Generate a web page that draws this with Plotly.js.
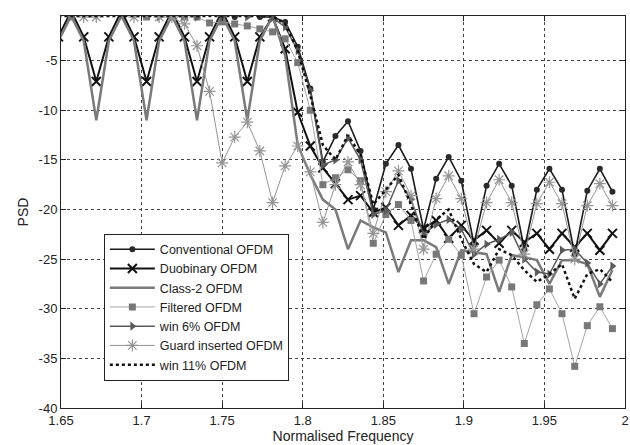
<!DOCTYPE html>
<html>
<head>
<meta charset="utf-8">
<script src="https://cdn.plot.ly/plotly-3.0.1.min.js"></script>
<style>html,body{margin:0;padding:0;background:#fff;}#chart{width:630px;height:445px;}</style>
</head>
<body>
<div id="chart"></div>
<script>
// Normalised frequency samples (n/128, n = 211..255)
const freq = [1.6484,1.6563,1.6641,1.6719,1.6797,1.6875,1.6953,1.7031,1.7109,1.7188,
  1.7266,1.7344,1.7422,1.75,1.7578,1.7656,1.7734,1.7813,1.7891,1.7969,
  1.8047,1.8125,1.8203,1.8281,1.8359,1.8438,1.8516,1.8594,1.8672,1.875,
  1.8828,1.8906,1.8984,1.9063,1.9141,1.9219,1.9297,1.9375,1.9453,1.9531,
  1.9609,1.9688,1.9766,1.9844,1.9922];

const conventional = [0,0,0,0,0,0,0,0,0,0,
  0,0,0,0,-0.6,0,-0.6,-0.6,-1.1,-3.6,
  -7.8,-15.2,-12.6,-11.1,-14.1,-20.0,-15.4,-13.5,-15.9,-22.0,
  -16.9,-14.7,-17.1,-23.5,-17.6,-15.4,-17.6,-24.0,-18.0,-15.9,
  -18.0,-24.5,-18.1,-15.9,-18.2];

const duobinary = [-2.6,0,-2.6,-7.1,-2.6,0,-2.6,-7.1,-2.6,0,
  -2.6,-7.1,-2.6,0,-2.6,-7.1,-2.6,-0.6,-3.8,-10.2,
  -13.6,-15.8,-17.4,-19.0,-18.6,-20.3,-19.8,-21.6,-20.6,-21.9,
  -21.1,-22.9,-21.6,-23.1,-22.1,-23.4,-22.1,-23.3,-22.4,-24.0,
  -22.4,-23.8,-22.4,-24.1,-22.4];

const class2 = [-3.0,-0.5,-3.0,-11.0,-3.0,-0.5,-3.0,-11.0,-3.0,-0.5,
  -3.0,-11.0,-3.0,-0.5,-3.0,-11.0,-3.0,-0.5,-4.5,-13.5,
  -16.5,-19.0,-20.0,-24.0,-21.1,-21.8,-22.3,-26.3,-23.1,-23.1,
  -23.8,-27.5,-24.1,-24.3,-24.5,-28.3,-24.6,-24.8,-25.1,-27.5,
  -25.1,-25.1,-25.5,-28.8,-26.1];

const filtered = [0,-0.6,0,0,0,0,0,-0.6,0,-0.6,
  -0.6,-0.6,-1.2,-1.1,-1.3,-1.5,-1.8,-2.1,-2.8,-5.2,
  -10.0,-17.5,-16.8,-16.0,-17.1,-23.4,-20.5,-19.5,-21.1,-27.2,
  -24.5,-23.0,-24.6,-30.5,-26.8,-25.1,-27.8,-33.5,-29.6,-28.0,
  -30.5,-35.8,-31.7,-29.8,-32.0];

const win6 = [0,0,0,0,0,0,0,0,-0.6,0,
  0,-0.6,0,-0.6,0,-0.6,0,-0.7,-1.6,-4.0,
  -8.0,-15.5,-15.0,-12.8,-15.0,-20.5,-20.1,-17.1,-19.0,-22.5,
  -21.5,-21.0,-22.0,-24.5,-23.5,-23.0,-22.3,-25.0,-26.3,-26.5,
  -24.1,-24.0,-25.4,-27.5,-25.7];

const guard = [0,0,-0.6,-0.6,0,0,-0.6,0,-0.6,-0.6,
  -1.3,-3.5,-8.1,-15.3,-12.7,-11.2,-14.1,-19.3,-15.6,-13.6,
  -16.2,-21.3,-17.5,-15.2,-17.5,-22.4,-18.2,-16.1,-18.6,-24.0,
  -18.9,-16.6,-18.9,-24.0,-19.3,-17.0,-19.3,-24.5,-19.4,-17.25,
  -19.4,-25.0,-19.6,-17.4,-19.6];

const win11 = [-0.5,-0.5,-0.5,-0.5,-0.5,-0.5,-0.5,-0.5,-0.5,-0.5,
  -0.5,-0.5,-0.5,-0.5,-0.5,-0.5,-0.5,-0.5,-1.3,-4.0,
  -8.5,-13.5,-15.0,-12.5,-14.5,-19.5,-18.0,-16.5,-19.5,-23.0,
  -21.0,-20.0,-23.0,-25.5,-26.3,-24.0,-24.6,-26.1,-27.3,-26.5,
  -25.5,-29.0,-26.5,-26.0,-27.3];

const seriesNames = ["Conventional OFDM","Duobinary OFDM","Class-2 OFDM","Filtered OFDM",
  "win 6% OFDM","Guard inserted OFDM","win 11% OFDM"];

const xTicks = [1.65,1.7,1.75,1.8,1.85,1.9,1.95,2];
const xTickText = ["1.65","1.7","1.75","1.8","1.85","1.9","1.95","2"];
const yTicks = [-40,-35,-30,-25,-20,-15,-10,-5];
const yTickText = ["-40","-35","-30","-25","-20","-15","-10","-5"];

const traces = [
  {x: freq, y: conventional, name: seriesNames[0], mode: "lines+markers",
   line: {color: "#1a1a1a", width: 1.6},
   marker: {symbol: "circle", size: 6, color: "#2a2a2a"}},
  {x: freq, y: duobinary, name: seriesNames[1], mode: "lines+markers",
   line: {color: "#111111", width: 2},
   marker: {symbol: "x-thin-open", size: 9, line: {color: "#111111", width: 2}}},
  {x: freq, y: class2, name: seriesNames[2], mode: "lines",
   line: {color: "#7a7a7a", width: 2.5}},
  {x: freq, y: filtered, name: seriesNames[3], mode: "lines+markers",
   line: {color: "#a5a5a5", width: 1},
   marker: {symbol: "square", size: 7, color: "#787878"}},
  {x: freq, y: win6, name: seriesNames[4], mode: "lines+markers",
   line: {color: "#5a5a5a", width: 1.5},
   marker: {symbol: "triangle-right", size: 8, color: "#5a5a5a"}},
  {x: freq, y: guard, name: seriesNames[5], mode: "lines+markers",
   line: {color: "#959595", width: 1},
   marker: {symbol: "asterisk-open", size: 10, line: {color: "#8a8a8a", width: 1.2}}},
  {x: freq, y: win11, name: seriesNames[6], mode: "lines",
   line: {color: "#111111", width: 2.5, dash: "dot"}}
];

const axisFont = {family: "Liberation Sans, Arial, sans-serif", size: 13, color: "#222"};

const layout = {
  width: 630, height: 445,
  margin: {l: 61, r: 5, t: 16, b: 37},
  paper_bgcolor: "#fff", plot_bgcolor: "#fff",
  font: axisFont,
  showlegend: true,
  xaxis: {
    range: [1.65, 2], tickvals: xTicks, ticktext: xTickText,
    showline: true, mirror: "ticks", linecolor: "#222", linewidth: 1,
    ticks: "inside", ticklen: 5, tickcolor: "#222",
    showgrid: true, gridcolor: "#444", griddash: "dot", gridwidth: 1,
    zeroline: false, tickfont: axisFont,
    title: {text: "Normalised Frequency", font: {family: "Liberation Sans, Arial, sans-serif", size: 14, color: "#222"}, standoff: 2}
  },
  yaxis: {
    range: [-40, -0.5], tickvals: yTicks, ticktext: yTickText,
    showline: true, mirror: "ticks", linecolor: "#222", linewidth: 1,
    ticks: "inside", ticklen: 5, tickcolor: "#222",
    showgrid: true, gridcolor: "#444", griddash: "dot", gridwidth: 1,
    zeroline: false, tickfont: axisFont,
    title: {text: "PSD", font: {family: "Liberation Sans, Arial, sans-serif", size: 14, color: "#222"}, standoff: 6}
  },
  legend: {
    x: 0.076, y: 0.445, xanchor: "left", yanchor: "top",
    bgcolor: "#fff", bordercolor: "#222", borderwidth: 1,
    font: {family: "Liberation Sans, Arial, sans-serif", size: 12.5, color: "#222"},
    tracegroupgap: 0, itemwidth: 45
  }
};

Plotly.newPlot("chart", traces, layout, {staticPlot: true, displayModeBar: false});
</script>
</body>
</html>
